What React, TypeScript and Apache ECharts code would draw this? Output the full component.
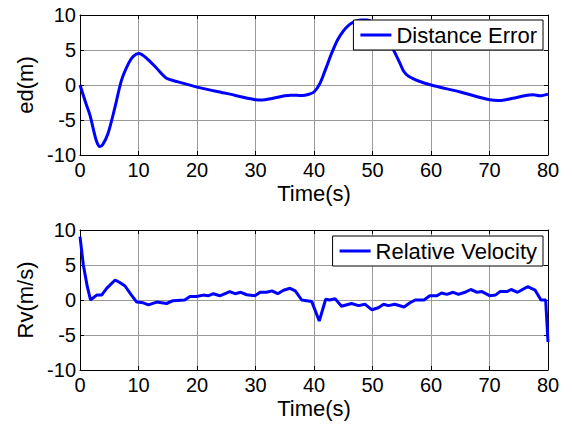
import React, { useEffect, useRef } from "react";
import * as echarts from "echarts";

const edTime = [0, 1, 1.7, 2.6, 3.0, 3.4, 3.9, 4.8, 6, 7.1, 8.3, 9.1, 10.1, 11.4, 13.1, 14.8, 16.5, 20, 25, 30, 31, 33, 35, 36, 38, 39, 40, 41, 42, 43, 44, 45, 46, 47, 48, 49, 50, 51, 52, 53, 53.6, 54.7, 55.3, 56.1, 58.1, 60, 65, 70, 72, 74, 76, 77.5, 78.6, 80];
const edValues = [0, -2.6, -4.3, -7.4, -8.4, -8.8, -8.5, -6.9, -3.1, 0.7, 3.1, 4.1, 4.5, 3.8, 2.4, 0.95, 0.5, -0.3, -1.2, -2.1, -2.15, -1.9, -1.55, -1.45, -1.5, -1.35, -1.0, 0.2, 2.3, 4.5, 6.4, 7.7, 8.6, 9.1, 9.3, 9.3, 9.0, 8.4, 7.4, 6.0, 5.0, 3.1, 2.0, 1.3, 0.5, 0, -1.0, -2.1, -2.2, -1.9, -1.55, -1.4, -1.55, -1.3];

const rvTime = [0, 0.57, 1.25, 1.8, 2.85, 3.7, 4.56, 6, 6.8, 7.7, 8.7, 9.7, 10.8, 11.7, 13.1, 14.8, 15.9, 17.9, 18.8, 19.9, 21.1, 21.9, 22.8, 23.9, 25.6, 26.5, 27.5, 28.5, 29.9, 30.8, 31.9, 32.8, 33.8, 34.8, 35.9, 36.8, 37.9, 39.6, 40.9, 42, 42.7, 43.6, 44.7, 46.4, 47.6, 48.7, 49.9, 51, 51.9, 52.7, 53.8, 55.4, 56.4, 57.3, 58.8, 59.8, 61, 61.8, 62.7, 63.8, 64.7, 65.8, 66.8, 67.9, 68.7, 70.1, 71, 71.8, 73, 73.7, 74.8, 76.5, 77.8, 78.8, 79.6, 80];
const rvValues = [9.05, 5, 1.9, 0, 0.7, 0.7, 1.67, 2.86, 2.5, 2, 0.8, -0.3, -0.4, -0.7, -0.3, -0.5, -0.1, 0, 0.5, 0.5, 0.7, 0.6, 0.9, 0.6, 1.2, 0.9, 1.1, 0.75, 0.6, 1.1, 1.1, 1.3, 0.9, 1.4, 1.67, 1.3, 0, -0.2, -3, 0.1, 0, 0.2, -0.9, -0.5, -0.8, -0.6, -1.4, -1.1, -0.6, -0.8, -0.6, -1, -0.4, 0, 0, 0.6, 0.6, 1, 0.8, 1.1, 0.8, 1.1, 1.5, 1.1, 1.2, 0.6, 0.7, 1.2, 1.2, 1.5, 1.1, 1.9, 1.4, 0, 0, -6];

const xTicks = { min: 0, max: 80, interval: 10 };
const yTicks = { min: -10, max: 10, interval: 5 };

const FONT = "'Liberation Sans', Arial, sans-serif";
const BLUE = "#0000ff";

function mainX(grid: number) {
  return {
    type: "value", gridIndex: grid, ...xTicks, position: "bottom",
    name: "Time(s)", nameLocation: "middle", nameGap: 27,
    nameTextStyle: { fontSize: 22, color: "#000", fontFamily: FONT },
    axisLine: { show: true, onZero: false, lineStyle: { color: "#000", width: 1 } },
    axisTick: { show: true, inside: true, length: 4, lineStyle: { color: "#000" } },
    axisLabel: { fontSize: 20, color: "#000", fontFamily: FONT, margin: 5 },
    splitLine: { show: true, lineStyle: { color: "#999", width: 1 } },
  };
}
function sideX(grid: number) {
  return {
    type: "value", gridIndex: grid, ...xTicks, position: "top",
    axisLine: { show: true, onZero: false, lineStyle: { color: "#000", width: 1 } },
    axisTick: { show: true, inside: true, length: 4, lineStyle: { color: "#000" } },
    axisLabel: { show: false }, splitLine: { show: false },
  };
}
function mainY(grid: number, name: string) {
  return {
    type: "value", gridIndex: grid, ...yTicks, position: "left",
    name, nameLocation: "middle", nameGap: 43,
    nameTextStyle: { fontSize: 22, color: "#000", fontFamily: FONT },
    axisLine: { show: true, onZero: false, lineStyle: { color: "#000", width: 1 } },
    axisTick: { show: true, inside: true, length: 4, lineStyle: { color: "#000" } },
    axisLabel: { fontSize: 20, color: "#000", fontFamily: FONT, margin: 4 },
    splitLine: { show: true, lineStyle: { color: "#999", width: 1 } },
  };
}
function sideY(grid: number) {
  return {
    type: "value", gridIndex: grid, ...yTicks, position: "right",
    axisLine: { show: true, onZero: false, lineStyle: { color: "#000", width: 1 } },
    axisTick: { show: true, inside: true, length: 4, lineStyle: { color: "#000" } },
    axisLabel: { show: false }, splitLine: { show: false },
  };
}
function legend(name: string, top: number) {
  return {
    data: [name], right: 29, top, orient: "horizontal",
    icon: "rect", itemWidth: 31, itemHeight: 3,
    padding: [4, 6, 4, 7],
    backgroundColor: "#fff", borderColor: "#000", borderWidth: 1, borderRadius: 0,
    textStyle: { fontSize: 22, color: "#000", fontFamily: FONT },
    selectedMode: false,
  };
}

export default function App() {
  const ref = useRef<HTMLDivElement>(null);
  useEffect(() => {
    if (!ref.current) return;
    const chart = echarts.init(ref.current, null, { renderer: "svg" });
    chart.setOption({
      animation: false,
      backgroundColor: "#fff",
      grid: [
        { left: 80, top: 15, width: 468, height: 140 },
        { left: 80, top: 230, width: 468, height: 140 },
      ],
      xAxis: [mainX(0), mainX(1), sideX(0), sideX(1)],
      yAxis: [mainY(0, "ed(m)"), mainY(1, "Rv(m/s)"), sideY(0), sideY(1)],
      legend: [legend("Distance Error", 20), legend("Relative Velocity", 236)],
      series: [
        {
          type: "line", name: "Distance Error", xAxisIndex: 0, yAxisIndex: 0,
          data: edTime.map((t, i) => [t, edValues[i]]),
          symbol: "none", smooth: 0.3, color: BLUE,
          lineStyle: { color: BLUE, width: 3 }, itemStyle: { color: BLUE },
        },
        {
          type: "line", name: "Relative Velocity", xAxisIndex: 1, yAxisIndex: 1,
          data: rvTime.map((t, i) => [t, rvValues[i]]),
          symbol: "none", smooth: false, color: BLUE,
          lineStyle: { color: BLUE, width: 3 }, itemStyle: { color: BLUE },
        },
      ],
    });
    return () => chart.dispose();
  }, []);
  return (
    <div
      ref={ref}
      style={{ position: "fixed", left: 0, top: 0, width: 572, height: 430, background: "#fff" }}
    />
  );
}
